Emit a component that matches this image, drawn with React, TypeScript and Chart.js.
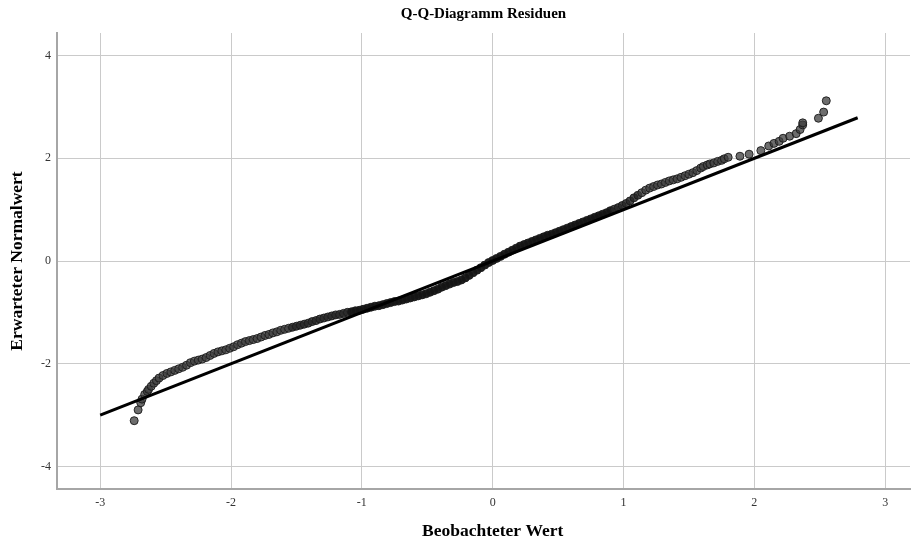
import React, { useEffect, useRef } from "react";
import { Chart, registerables } from "chart.js";

Chart.register(...registerables);

const observedValues: number[] = [
  -2.74, -2.71, -2.69, -2.68, -2.66, -2.64, -2.63, -2.61, -2.59, -2.57,
  -2.55, -2.52, -2.49, -2.46, -2.43, -2.40, -2.37, -2.34, -2.31, -2.28,
  -2.25, -2.22, -2.19, -2.16, -2.13, -2.10, -2.07, -2.04, -2.01, -1.98,
  -1.95, -1.92, -1.89, -1.86, -1.83, -1.80, -1.77, -1.74, -1.71, -1.68,
  -1.65, -1.62, -1.59, -1.56, -1.53, -1.50, -1.47, -1.44, -1.41, -1.38,
  -1.35, -1.32, -1.29, -1.26, -1.23, -1.20, -1.17, -1.14, -1.11, -1.08,
  -1.05, -1.02, -0.99, -0.96, -0.93, -0.90, -0.87, -0.84, -0.81, -0.78,
  -0.75, -0.72, -0.69, -0.66, -0.63, -0.60, -0.57, -0.54, -0.51, -0.48,
  -0.45, -0.42, -0.39, -0.36, -0.33, -0.30, -0.27, -0.24, -0.21, -0.18,
  -0.15, -0.12, -0.09, -0.06, -0.03, 0.00, 0.03, 0.06, 0.09, 0.12,
  0.15, 0.18, 0.21, 0.24, 0.27, 0.30, 0.33, 0.36, 0.39, 0.42,
  0.45, 0.48, 0.51, 0.54, 0.57, 0.60, 0.63, 0.66, 0.69, 0.72,
  0.75, 0.78, 0.81, 0.84, 0.87, 0.90, 0.93, 0.96, 0.99, 1.02,
  1.05, 1.08, 1.11, 1.14, 1.17, 1.20, 1.23, 1.26, 1.29, 1.32,
  1.35, 1.38, 1.41, 1.44, 1.47, 1.50, 1.53, 1.56, 1.59, 1.61,
  1.64, 1.66, 1.69, 1.72, 1.75, 1.77, 1.80, 1.89, 1.96, 2.05,
  2.11, 2.15, 2.19, 2.22, 2.27, 2.32, 2.35, 2.37, 2.37, 2.49,
  2.53, 2.55,
];

const expectedValues: number[] = [
  -3.11, -2.90, -2.76, -2.69, -2.60, -2.54, -2.50, -2.44, -2.38, -2.33,
  -2.28, -2.23, -2.19, -2.16, -2.13, -2.10, -2.07, -2.03, -1.98, -1.95,
  -1.93, -1.91, -1.88, -1.84, -1.80, -1.77, -1.75, -1.73, -1.70, -1.67,
  -1.63, -1.60, -1.57, -1.55, -1.53, -1.51, -1.48, -1.45, -1.43, -1.40,
  -1.38, -1.35, -1.33, -1.31, -1.29, -1.27, -1.25, -1.23, -1.21, -1.18,
  -1.16, -1.13, -1.11, -1.09, -1.07, -1.05, -1.04, -1.02, -1.00, -0.99,
  -0.97, -0.96, -0.94, -0.92, -0.90, -0.88, -0.87, -0.85, -0.83, -0.81,
  -0.79, -0.78, -0.76, -0.74, -0.72, -0.70, -0.68, -0.66, -0.64, -0.61,
  -0.58, -0.55, -0.51, -0.48, -0.45, -0.42, -0.40, -0.37, -0.33, -0.28,
  -0.23, -0.18, -0.13, -0.08, -0.03, 0.01, 0.05, 0.09, 0.13, 0.17,
  0.21, 0.25, 0.29, 0.32, 0.35, 0.38, 0.41, 0.44, 0.47, 0.50,
  0.52, 0.55, 0.58, 0.61, 0.64, 0.67, 0.70, 0.73, 0.76, 0.79,
  0.82, 0.85, 0.88, 0.91, 0.94, 0.98, 1.01, 1.04, 1.08, 1.12,
  1.17, 1.23, 1.28, 1.33, 1.38, 1.42, 1.45, 1.48, 1.50, 1.53,
  1.56, 1.58, 1.60, 1.63, 1.66, 1.69, 1.72, 1.76, 1.81, 1.84,
  1.87, 1.89, 1.91, 1.94, 1.96, 1.99, 2.02, 2.04, 2.08, 2.15,
  2.24, 2.29, 2.33, 2.39, 2.43, 2.48, 2.56, 2.65, 2.69, 2.78,
  2.90, 3.12,
];

// Reference line (y = x) end points
const lineXValues: number[] = [-3, 2.79];
const lineYValues: number[] = [-3, 2.79];

const xTickValues: number[] = [-3, -2, -1, 0, 1, 2, 3];
const yTickValues: number[] = [-4, -2, 0, 2, 4];

const titleText = "Q-Q-Diagramm Residuen";
const xTitleText = "Beobachteter Wert";
const yTitleText = "Erwarteter Normalwert";

const SERIF = "'Liberation Serif', 'Times New Roman', serif";

// styling: the dense middle of the point band is rendered darker (heavy overlap in the original)
function pointFill(ctx: any): string {
  const v = ctx.raw ? Math.abs(ctx.raw.y) : 0;
  if (v < 1.0) return "rgba(20,20,20,0.95)";
  if (v < 1.3) return "rgba(40,40,40,0.85)";
  return "rgba(60,60,60,0.75)";
}

const xTitlePlugin = {
  id: "xTitleCentered",
  afterDraw(chart: any) {
    const { ctx, scales } = chart;
    const xs = scales.x;
    const cx = xs.getPixelForValue(0);
    ctx.save();
    ctx.font = `bold 17.5px ${SERIF}`;
    ctx.fillStyle = "#000";
    ctx.textAlign = "center";
    ctx.textBaseline = "middle";
    ctx.fillText(xTitleText, cx, 531);
    ctx.restore();
  },
};

export default function App() {
  const canvasRef = useRef<HTMLCanvasElement | null>(null);

  useEffect(() => {
    if (!canvasRef.current) return;
    const points = observedValues.map((x, i) => ({ x, y: expectedValues[i] }));
    const linePts = lineXValues.map((x, i) => ({ x, y: lineYValues[i] }));

    const chart = new Chart(canvasRef.current, {
      type: "scatter",
      data: {
        datasets: [
          {
            type: "scatter",
            data: points,
            pointRadius: 4,
            pointBorderWidth: 1,
            backgroundColor: pointFill as any,
            borderColor: "rgba(25,25,25,0.9)",
            order: 2,
          },
          {
            type: "line",
            data: linePts,
            borderColor: "#000000",
            borderWidth: 3,
            pointRadius: 0,
            fill: false,
            order: 1,
          } as any,
        ],
      },
      plugins: [xTitlePlugin],
      options: {
        animation: false,
        responsive: true,
        maintainAspectRatio: false,
        layout: { padding: { left: 0, right: 7, top: 0, bottom: 0 } },
        plugins: {
          legend: { display: false },
          tooltip: { enabled: false },
          title: {
            display: true,
            text: titleText,
            color: "#000",
            fullSize: false,
            font: { family: SERIF, size: 15, weight: "bold" },
            padding: { top: 5, bottom: 10 },
          },
        },
        scales: {
          x: {
            type: "linear",
            min: -3.33,
            max: 3.19,
            afterBuildTicks: (s: any) => {
              s.ticks = xTickValues.map((v) => ({ value: v }));
            },
            afterFit: (s: any) => {
              s.height = 55;
            },
            ticks: {
              color: "#333",
              font: { family: SERIF, size: 12 },
              padding: 7,
              maxRotation: 0,
            },
            grid: { color: "#cacaca", lineWidth: 1, drawTicks: false },
            border: { display: true, color: "#a6a6a6", width: 2 },
            title: { display: false },
          },
          y: {
            type: "linear",
            min: -4.44,
            max: 4.44,
            afterBuildTicks: (s: any) => {
              s.ticks = yTickValues.map((v) => ({ value: v }));
            },
            afterFit: (s: any) => {
              s.width = 57;
            },
            ticks: {
              color: "#333",
              font: { family: SERIF, size: 12 },
              padding: 6,
            },
            grid: { color: "#cacaca", lineWidth: 1, drawTicks: false },
            border: { display: true, color: "#a6a6a6", width: 2 },
            title: {
              display: true,
              text: yTitleText,
              color: "#000",
              font: { family: SERIF, size: 17.5, weight: "bold" },
              padding: { top: 7, bottom: 0 },
            },
          },
        },
      },
    });
    return () => chart.destroy();
  }, []);

  return (
    <div
      style={{
        position: "fixed",
        left: 0,
        top: 0,
        width: 917,
        height: 544,
        background: "#ffffff",
      }}
    >
      <canvas ref={canvasRef} />
    </div>
  );
}
